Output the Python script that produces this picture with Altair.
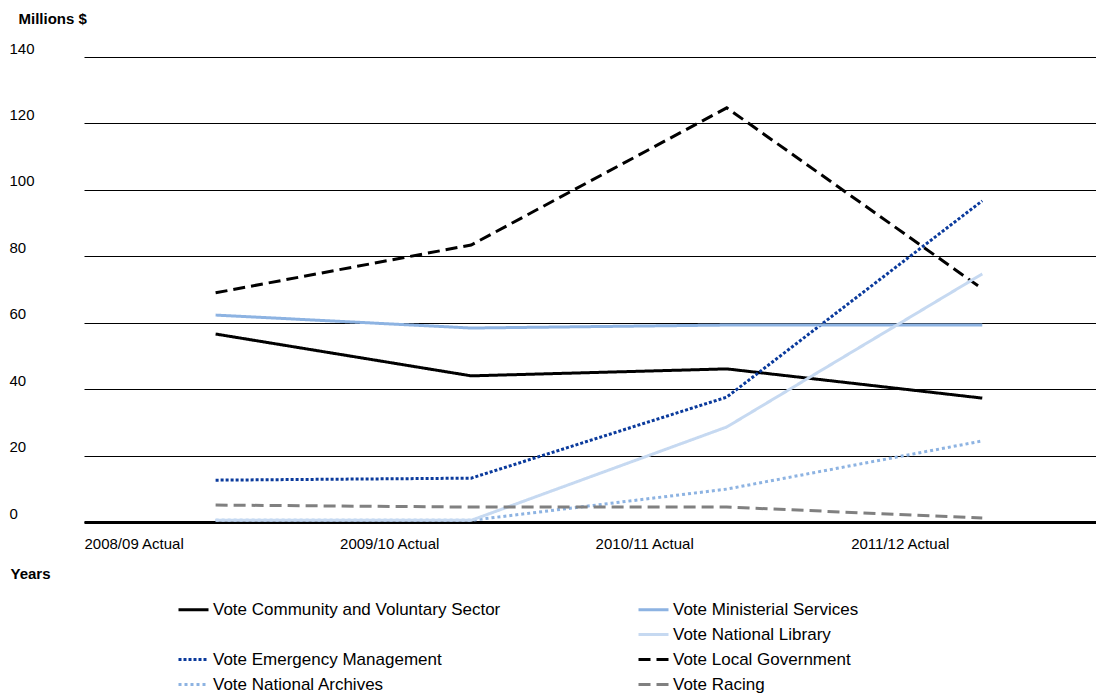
import json
import altair as alt
import pandas as pd

years = ["2008/09 Actual", "2009/10 Actual", "2010/11 Actual", "2011/12 Actual"]

community = [56.6, 44.0, 46.1, 37.3]
ministerial = [62.3, 58.4, 59.3, 59.3]
local_gov = [69.0, 83.4, 124.7, 70.2]
emergency = [12.6, 13.2, 37.6, 96.7]
library = [0.5, 0.5, 28.6, 74.7]
archives = [0.5, 0.5, 9.9, 24.4]
racing = [5.1, 4.5, 4.5, 1.2]

series_names = [
    "Vote Community and Voluntary Sector",
    "Vote Emergency Management",
    "Vote Local Government",
    "Vote Ministerial Services",
    "Vote National Archives",
    "Vote National Library",
    "Vote Racing",
]
series_values = [community, emergency, local_gov, ministerial, archives, library, racing]

rows = []
for name, vals in zip(series_names, series_values):
    for i, v in enumerate(vals):
        rows.append({"series": name, "year": years[i], "idx": i, "value": v})
df = pd.DataFrame(rows)

# legend order (column-major, 2 columns of 4); " " is an empty slot
legend_order = [
    "Vote Community and Voluntary Sector", " ",
    "Vote Emergency Management", "Vote National Archives",
    "Vote Ministerial Services", "Vote National Library",
    "Vote Local Government", "Vote Racing",
]
colors = ["#000000", "transparent", "#0a3a9c", "#8db3e2",
          "#8db3e2", "#c6d9f1", "#000000", "#808080"]
dashes = [[1, 0], [1, 0], [3, 2], [3, 3],
          [1, 0], [1, 0], [12, 6], [12, 6]]

label_expr = json.dumps(years) + "[datum.value]"
FONT = "Liberation Sans"

chart = (
    alt.Chart(df)
    .transform_calculate(xpos="datum.idx + 0.515")
    .mark_line(strokeWidth=3, strokeCap="butt")
    .encode(
        x=alt.X(
            "xpos:Q",
            scale=alt.Scale(domain=[0, 3.96], nice=False, zero=False),
            axis=alt.Axis(
                values=[0, 1, 2, 3],
                labelExpr=label_expr,
                grid=False,
                ticks=False,
                tickSize=0,
                labelAlign="left",
                labelBaseline="alphabetic",
                labelPadding=26,
                labelFlush=False,
                labelOverlap=False,
                labelBound=False,
                domainColor="#000000",
                domainWidth=3,
                title="Years",
                titleX=-74,
                titleY=56,
                titleAlign="left",
                titleBaseline="alphabetic",
            ),
        ),
        y=alt.Y(
            "value:Q",
            scale=alt.Scale(domain=[0, 140], nice=False),
            axis=alt.Axis(
                values=[0, 20, 40, 60, 80, 100, 120, 140],
                domain=False,
                ticks=False,
                tickSize=0,
                grid=True,
                gridColor="#000000",
                gridWidth=1,
                labelAlign="left",
                labelBaseline="alphabetic",
                labelOffset=-4,
                labelPadding=75,
                labelOverlap=False,
                title="Millions $",
                titleAngle=0,
                titleX=-66,
                titleY=-34,
                titleAlign="left",
                titleBaseline="alphabetic",
            ),
        ),
        color=alt.Color("series:N", scale=alt.Scale(domain=legend_order, range=colors), title=None),
        strokeDash=alt.StrokeDash("series:N", scale=alt.Scale(domain=legend_order, range=dashes), title=None),
    )
    .properties(
        width=1012,
        height=465,
        autosize=alt.AutoSizeParams(type="none"),
        padding={"left": 84, "top": 57, "right": 0, "bottom": 173},
    )
    .configure_view(stroke=None)
    .configure_axis(
        labelFont=FONT,
        labelFontSize=15,
        labelColor="#000000",
        titleFont=FONT,
        titleFontSize=15,
        titleFontWeight="bold",
        titleColor="#000000",
    )
    .configure_legend(
        orient="none",
        legendX=93,
        legendY=536,
        columns=2,
        columnPadding=131,
        rowPadding=0,
        labelFont=FONT,
        labelFontSize=17,
        labelColor="#000000",
        labelLimit=600,
        labelOffset=3,
        symbolType="stroke",
        symbolSize=900,
        symbolStrokeWidth=3,
    )
)

chart.save("out.html", embed_options={"renderer": "svg", "actions": False})
